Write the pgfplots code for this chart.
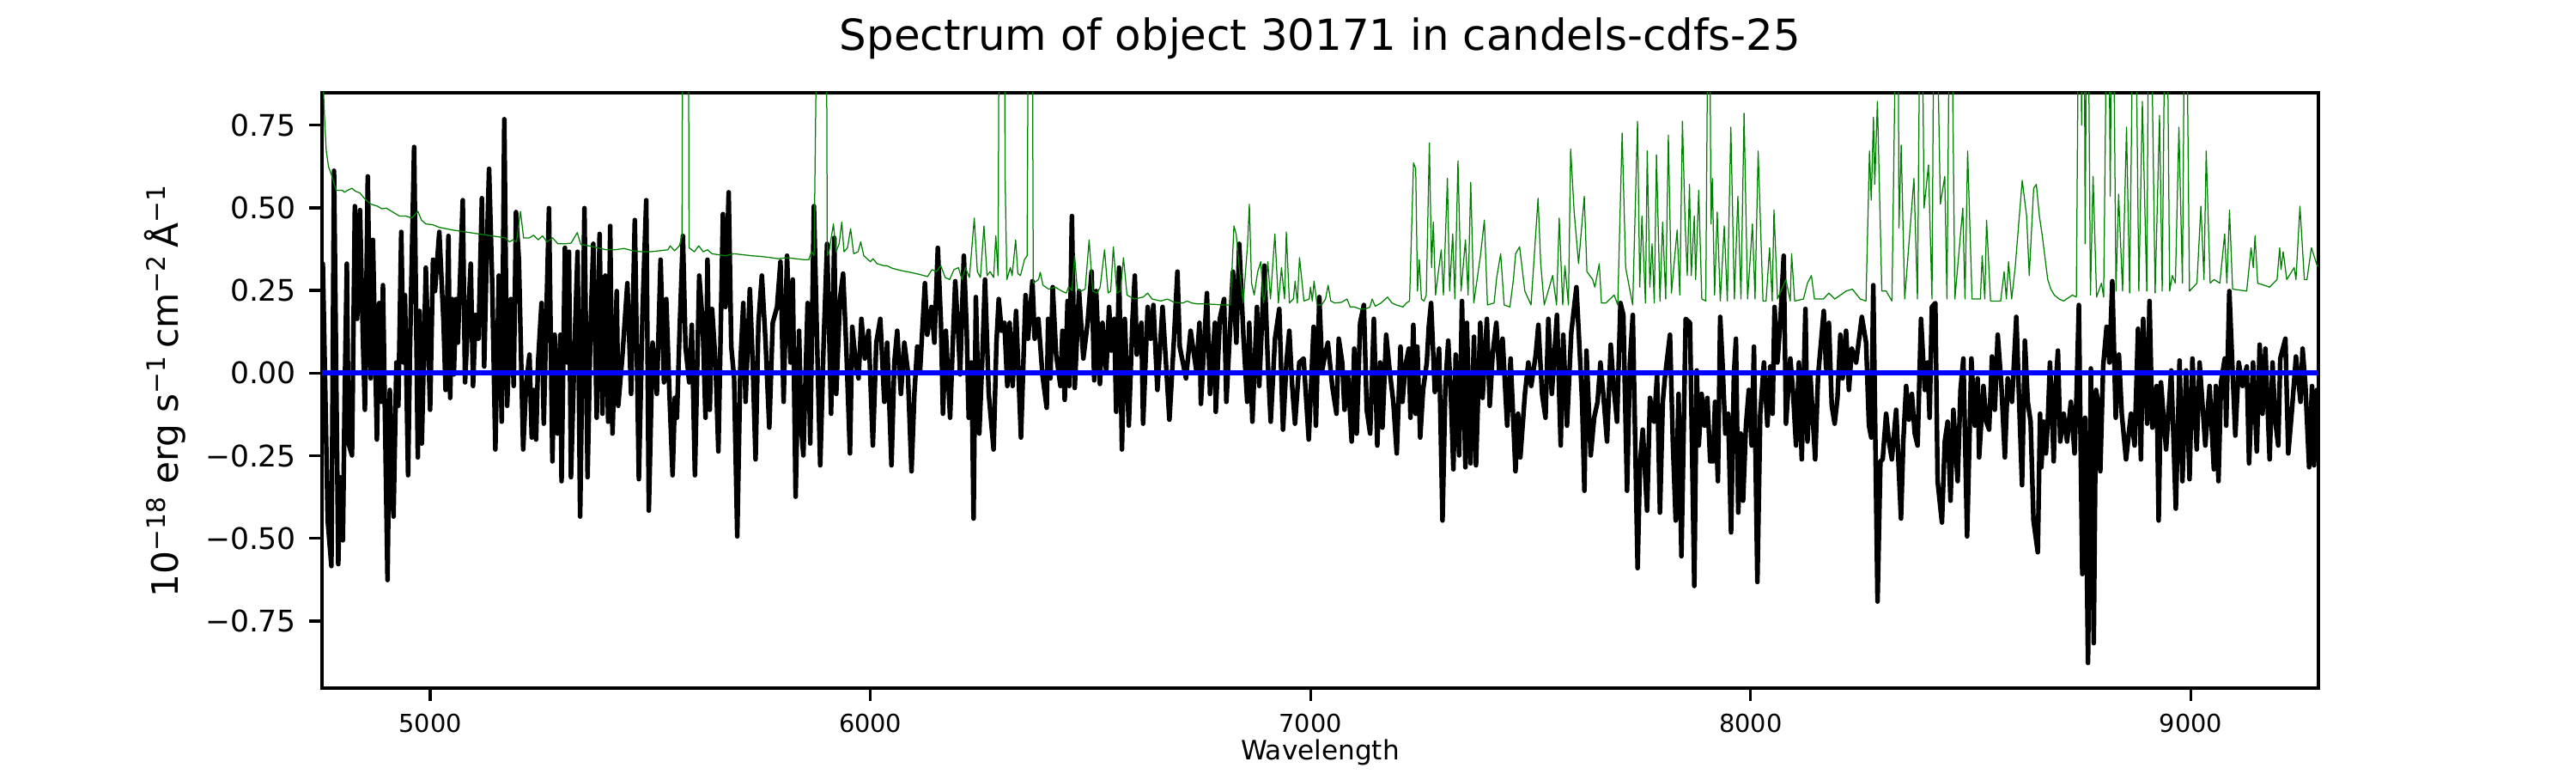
\documentclass[border=0pt]{standalone}
\usepackage{fontspec}
\setmainfont{DejaVu Sans}
\usepackage{pgfplots}
\pgfplotsset{compat=1.18}
\definecolor{mplgreen}{rgb}{0,0.5,0}
\definecolor{mplblue}{rgb}{0,0,1}
\begin{document}
\begin{tikzpicture}
\useasboundingbox (-90bp,-23.76bp) rectangle (630bp,192.24bp);
\begin{axis}[
  at={(0,0)}, anchor=south west,
  scale only axis, width=558bp, height=166.32bp,
  xmin=4754, xmax=9290, ymin=-0.953, ymax=0.848,
  axis line style={line width=0.8bp},
  every tick/.style={black, line width=0.8bp},
  tick align=outside, tick pos=left,
  major tick length=3.5bp,
  xtick={5000,6000,7000,8000,9000},
  xticklabels={5000,6000,7000,8000,9000},
  ytick={-0.75,-0.5,-0.25,0,0.25,0.5,0.75},
  yticklabels={−0.75,−0.50,−0.25,0.00,0.25,0.50,0.75},
  xticklabel style={font=\fontsize{6.94}{8}\selectfont, anchor=north, inner sep=0pt, yshift=-3.5bp},
  yticklabel style={font=\fontsize{8.33}{10}\selectfont, anchor=east, inner sep=0pt, xshift=-3.5bp},
  xlabel={Wavelength},
  xlabel style={font=\fontsize{7.5}{9}\selectfont, at={(axis description cs:0.5,0)}, anchor=north, inner sep=0pt, yshift=-14.2bp},
  ylabel={10\textsuperscript{−18} erg s\textsuperscript{−1}\,cm\textsuperscript{−2}\,Å\textsuperscript{−1}},
  ylabel style={font=\fontsize{10.2}{12}\selectfont, at={(axis description cs:-0.0680,0.5)}, anchor=south, inner sep=0pt, rotate=0},
  title={Spectrum of object 30171 in candels-cdfs-25},
  title style={font=\fontsize{12}{14}\selectfont, at={(axis description cs:0.5,1)}, anchor=base, inner sep=0pt, yshift=6bp},
]
\addplot[black, line width=1.3bp, line join=round] table {
x y
4754.0 0.300
4755.9 0.331
4767.0 -0.446
4775.4 -0.584
4781.3 0.612
4791.0 -0.578
4794.9 -0.315
4801.4 -0.506
4806.0 -0.028
4810.5 0.331
4814.4 -0.213
4822.2 -0.249
4828.7 0.505
4833.9 0.164
4840.4 0.493
4846.9 0.104
4851.5 -0.111
4858.0 0.595
4864.5 -0.016
4869.7 0.403
4878.8 -0.201
4884.0 0.212
4888.6 -0.087
4892.5 0.266
4902.9 -0.626
4908.1 -0.051
4916.5 -0.434
4923.0 0.032
4927.5 -0.099
4934.1 0.427
4939.2 0.032
4942.5 0.236
4949.6 -0.309
4953.5 0.044
4963.3 0.684
4971.7 -0.255
4975.6 0.188
4980.8 -0.213
4989.9 0.319
4999.7 -0.111
5006.2 0.343
5010.7 0.248
5020.5 0.427
5030.2 0.152
5034.8 -0.051
5041.3 0.415
5045.2 -0.075
5049.7 0.224
5053.6 -0.004
5058.8 0.224
5062.7 0.092
5073.8 0.523
5079.0 -0.028
5085.5 0.152
5092.0 0.331
5097.2 -0.039
5103.0 0.176
5109.5 0.104
5117.3 0.529
5122.5 0.020
5127.7 0.331
5133.6 0.618
5140.7 0.272
5147.9 -0.231
5155.8 0.295
5162.3 -0.147
5168.2 0.768
5174.7 -0.099
5183.1 0.224
5189.6 -0.039
5194.8 0.487
5201.3 0.343
5211.1 -0.231
5217.6 -0.039
5225.4 0.056
5230.6 -0.195
5235.2 -0.051
5240.4 -0.201
5244.9 0.032
5252.8 0.212
5257.9 -0.153
5269.7 0.499
5277.5 -0.267
5282.7 0.116
5289.2 -0.183
5295.7 0.116
5298.3 -0.327
5306.0 0.379
5311.2 0.032
5315.1 0.367
5319.7 -0.315
5329.5 0.152
5334.7 0.367
5340.5 -0.434
5350.3 0.499
5357.4 -0.315
5363.9 0.128
5370.4 0.391
5378.2 -0.135
5384.7 0.421
5391.2 -0.123
5397.7 0.295
5404.2 -0.147
5408.8 0.445
5414.0 -0.183
5423.7 0.248
5427.0 -0.099
5436.8 0.056
5447.8 0.272
5456.3 -0.063
5464.7 0.463
5473.9 -0.321
5482.3 0.188
5490.7 0.523
5496.6 -0.416
5505.1 0.092
5514.8 -0.063
5523.3 0.343
5531.0 -0.028
5536.2 0.224
5542.8 -0.039
5550.6 -0.309
5555.8 -0.075
5560.4 -0.135
5566.2 0.116
5574.0 0.415
5579.9 0.080
5588.3 -0.028
5594.2 0.146
5601.3 -0.309
5611.1 0.295
5618.9 0.152
5625.4 -0.135
5629.9 0.343
5635.1 -0.111
5640.3 0.194
5648.1 0.032
5654.6 -0.237
5665.0 0.481
5670.9 0.200
5678.0 0.547
5683.9 0.080
5690.4 -0.016
5697.5 -0.494
5704.7 0.032
5711.2 0.212
5716.4 -0.087
5726.1 0.254
5732.6 0.032
5739.1 -0.261
5745.6 0.152
5753.4 0.295
5761.9 0.092
5770.3 -0.165
5778.1 0.152
5787.9 0.200
5795.7 0.337
5802.8 -0.087
5810.6 0.355
5818.4 0.032
5823.6 0.283
5830.1 -0.374
5837.9 0.128
5843.1 -0.171
5847.7 -0.249
5857.4 0.212
5863.3 -0.213
5871.7 0.505
5878.9 0.092
5886.0 -0.279
5893.8 0.092
5901.6 0.391
5910.7 -0.123
5917.9 0.409
5922.4 -0.063
5930.9 0.224
5938.0 0.301
5945.8 0.056
5953.6 -0.243
5958.8 0.140
5966.6 0.032
5973.1 -0.016
5979.6 0.164
5987.4 0.044
5995.9 0.128
6005.6 -0.219
6013.4 0.092
6022.5 0.164
6031.6 -0.087
6038.1 0.092
6047.9 -0.279
6054.4 0.032
6060.9 0.128
6069.3 -0.063
6077.1 0.092
6084.9 0.008
6093.4 -0.297
6099.9 -0.063
6106.4 0.080
6112.9 0.008
6123.9 0.272
6129.1 0.116
6138.9 0.200
6145.4 0.092
6153.2 0.379
6160.3 0.152
6164.9 -0.123
6171.4 0.128
6181.1 -0.135
6187.6 0.104
6192.8 0.278
6199.3 0.128
6203.9 -0.004
6212.3 0.355
6218.8 0.128
6223.4 -0.135
6229.9 0.032
6234.4 -0.440
6239.6 0.230
6247.4 -0.183
6253.9 0.032
6260.4 0.283
6268.9 -0.063
6279.9 -0.231
6286.4 0.092
6291.6 0.224
6298.1 0.128
6304.6 0.152
6311.1 -0.039
6316.3 0.152
6323.2 -0.039
6331.0 0.188
6342.1 -0.195
6352.5 0.236
6358.3 0.104
6368.1 0.278
6373.3 0.104
6381.7 0.164
6390.8 -0.004
6400.6 -0.105
6403.8 0.164
6409.0 -0.016
6414.2 0.260
6422.0 0.056
6431.8 -0.039
6436.3 0.128
6441.5 -0.081
6448.0 0.218
6451.9 -0.039
6457.8 0.475
6464.3 -0.045
6474.0 0.248
6483.8 0.044
6493.5 0.152
6502.6 0.307
6508.5 -0.022
6513.0 0.248
6521.5 -0.033
6527.3 0.152
6535.8 0.002
6542.3 0.200
6547.5 0.068
6554.0 0.164
6558.5 -0.117
6565.0 0.319
6571.5 -0.231
6578.0 0.164
6587.1 -0.159
6595.6 0.164
6600.8 0.295
6605.3 0.056
6615.7 0.152
6619.6 -0.153
6630.0 0.200
6636.5 0.104
6643.0 0.206
6652.1 -0.051
6663.8 0.200
6679.4 -0.141
6689.8 0.104
6697.6 0.307
6702.8 0.080
6717.1 -0.016
6727.5 0.128
6740.5 0.008
6747.7 0.152
6750.9 -0.093
6764.6 0.242
6771.7 -0.063
6782.8 0.152
6784.7 -0.117
6793.9 0.164
6803.6 0.224
6808.8 -0.087
6823.7 0.307
6831.5 0.092
6838.0 0.391
6847.8 0.104
6856.2 -0.087
6860.8 0.152
6867.9 -0.147
6878.3 0.200
6883.5 -0.039
6895.2 0.325
6903.0 0.032
6909.5 -0.147
6919.3 0.104
6929.0 0.194
6937.5 -0.171
6945.3 0.032
6951.8 0.128
6958.3 -0.039
6964.8 -0.153
6974.5 0.032
6984.3 0.044
6996.0 -0.201
7007.0 0.140
7012.2 -0.159
7020.0 0.230
7026.5 0.008
7033.0 0.056
7039.5 0.092
7049.3 -0.039
7059.0 -0.123
7064.2 0.104
7072.0 0.032
7077.2 -0.111
7085.0 -0.004
7093.5 -0.207
7099.3 0.074
7104.9 -0.183
7112.7 0.152
7121.2 0.206
7127.7 -0.111
7135.5 -0.183
7143.9 0.164
7151.7 -0.219
7158.2 0.032
7163.4 -0.165
7171.9 0.116
7179.7 0.008
7188.1 -0.087
7195.9 -0.243
7204.4 0.080
7208.9 -0.087
7215.4 0.020
7223.2 0.074
7227.1 -0.135
7233.6 0.146
7238.8 -0.123
7242.7 0.080
7249.2 -0.195
7255.7 -0.051
7264.2 0.032
7268.7 0.140
7273.9 0.212
7282.4 -0.057
7292.1 0.074
7299.9 -0.446
7306.4 -0.039
7312.9 0.098
7319.4 -0.087
7324.6 -0.291
7329.8 0.056
7337.6 -0.249
7344.1 0.218
7351.9 -0.285
7355.2 0.152
7363.6 -0.273
7371.4 0.110
7376.0 -0.279
7385.7 0.152
7390.9 -0.075
7400.7 0.164
7407.2 -0.099
7413.7 0.056
7422.1 0.152
7428.6 0.008
7436.4 0.104
7446.8 -0.159
7454.6 0.044
7465.7 -0.297
7471.5 -0.123
7476.7 -0.255
7487.1 -0.063
7494.9 0.032
7501.4 -0.039
7511.8 0.056
7517.7 0.146
7526.1 -0.063
7533.9 -0.135
7540.4 0.164
7548.2 -0.063
7553.4 0.044
7559.9 0.176
7568.4 -0.219
7574.2 0.116
7582.7 -0.159
7592.4 0.122
7604.1 0.260
7611.9 0.056
7617.1 -0.087
7622.3 -0.356
7626.9 0.068
7636.6 -0.249
7644.4 -0.135
7652.2 -0.087
7658.7 0.032
7665.2 -0.063
7673.7 -0.207
7682.1 0.086
7688.6 -0.039
7696.4 -0.147
7704.2 0.212
7710.7 0.176
7719.2 -0.356
7725.7 0.032
7732.2 0.176
7743.2 -0.590
7748.4 -0.279
7754.9 -0.171
7764.7 -0.416
7771.2 -0.075
7780.9 -0.147
7787.4 -0.004
7793.9 -0.422
7800.4 -0.087
7805.0 -0.016
7816.7 0.116
7823.2 -0.207
7829.7 -0.446
7836.2 -0.063
7842.7 -0.554
7852.4 0.164
7862.2 0.152
7872.0 -0.644
7877.5 0.008
7882.1 -0.219
7888.6 -0.063
7895.1 -0.159
7901.6 -0.075
7908.1 -0.267
7914.6 -0.267
7919.1 -0.087
7925.6 -0.327
7930.8 0.170
7936.0 0.032
7942.5 -0.183
7949.0 -0.123
7955.5 -0.482
7962.0 -0.004
7966.6 0.104
7971.8 -0.422
7977.6 -0.183
7982.8 -0.386
7989.3 -0.159
7995.8 -0.051
8002.3 -0.219
8007.5 0.080
8015.3 -0.632
8021.8 -0.123
8030.2 0.032
8038.1 -0.159
8044.6 0.020
8049.8 -0.123
8054.3 0.200
8060.8 0.032
8067.3 0.152
8075.1 0.355
8080.3 -0.153
8090.1 0.044
8096.6 -0.063
8103.1 -0.219
8109.6 0.032
8116.1 -0.261
8124.5 0.194
8129.1 -0.207
8135.6 -0.004
8146.6 -0.261
8153.1 -0.010
8166.1 0.188
8171.3 0.014
8177.8 0.152
8184.3 -0.099
8190.8 -0.153
8197.3 -0.075
8203.8 0.116
8209.0 -0.016
8216.8 0.128
8223.3 -0.051
8229.8 0.074
8239.6 0.032
8252.6 0.170
8262.3 0.092
8268.8 -0.159
8274.0 -0.195
8278.6 0.266
8288.3 -0.691
8294.8 -0.267
8300.0 -0.261
8307.8 -0.123
8314.3 -0.207
8320.8 -0.261
8330.6 -0.111
8341.6 -0.440
8346.8 -0.207
8353.3 -0.039
8359.8 -0.141
8366.3 -0.063
8372.8 -0.183
8379.3 -0.219
8387.1 0.164
8395.6 -0.051
8402.1 0.032
8406.6 -0.135
8411.8 0.200
8419.6 0.212
8424.8 -0.327
8434.6 -0.452
8441.1 -0.207
8447.6 -0.147
8454.1 -0.386
8460.6 -0.111
8470.3 -0.327
8476.8 -0.051
8483.3 0.044
8491.8 -0.494
8501.5 0.044
8509.3 -0.159
8515.8 -0.016
8519.1 -0.255
8528.9 -0.039
8535.4 -0.147
8541.8 -0.171
8548.3 0.050
8554.8 -0.111
8561.3 0.116
8569.8 -0.039
8577.6 -0.255
8584.1 -0.016
8593.8 -0.087
8603.6 0.170
8610.1 -0.087
8616.6 -0.339
8623.1 0.098
8629.6 -0.087
8636.1 -0.147
8642.6 -0.446
8652.4 -0.542
8657.6 -0.123
8660.5 -0.285
8665.7 -0.147
8670.9 -0.243
8675.5 -0.135
8680.0 0.032
8683.9 -0.087
8688.5 -0.267
8693.0 -0.039
8698.2 0.068
8703.4 -0.207
8711.2 -0.123
8719.0 -0.207
8727.5 -0.087
8735.9 -0.243
8740.5 -0.063
8745.7 0.206
8753.5 -0.608
8760.0 -0.135
8766.5 -0.877
8773.0 0.014
8779.5 -0.817
8784.7 -0.051
8789.2 -0.087
8794.4 -0.297
8800.9 0.020
8808.7 0.140
8815.2 0.032
8821.7 0.278
8829.5 -0.135
8836.7 0.056
8843.2 -0.123
8852.9 -0.261
8864.0 -0.123
8872.4 -0.219
8880.2 0.134
8886.7 -0.261
8891.9 0.164
8901.0 -0.153
8906.2 0.218
8912.7 -0.165
8922.5 -0.039
8927.0 -0.446
8932.2 -0.028
8943.9 -0.231
8955.6 0.008
8966.0 -0.410
8974.5 0.038
8981.0 -0.327
8989.4 0.008
8997.2 -0.321
9003.7 0.044
9013.5 -0.231
9020.0 0.032
9033.0 -0.219
9042.7 -0.039
9052.5 -0.291
9057.0 -0.039
9062.9 -0.327
9068.7 -0.028
9077.2 0.044
9080.4 -0.159
9087.6 0.248
9094.7 0.014
9101.2 -0.189
9109.0 0.032
9117.5 -0.039
9127.2 0.020
9132.4 -0.273
9141.5 0.032
9150.0 -0.237
9156.5 0.086
9163.0 -0.123
9169.5 0.074
9179.2 -0.261
9185.7 0.032
9192.2 -0.147
9198.7 -0.219
9203.3 0.044
9215.0 0.104
9221.5 -0.243
9229.9 -0.111
9239.0 0.050
9249.4 -0.087
9254.0 0.074
9260.5 -0.039
9268.9 -0.285
9275.4 -0.039
9280.0 -0.279
9286.5 -0.051
9290.0 -0.231
};
\addplot[mplgreen, line width=0.3bp, line join=round] table {
x y
4754.0 1.000
4757.2 0.860
4760.5 0.750
4763.7 0.672
4768.9 0.624
4776.7 0.595
4786.0 0.553
4800.0 0.553
4805.0 0.547
4812.0 0.553
4822.0 0.559
4830.0 0.550
4840.0 0.545
4850.0 0.529
4865.0 0.511
4880.0 0.505
4890.0 0.497
4900.0 0.499
4915.0 0.487
4930.0 0.475
4945.0 0.475
4958.0 0.469
4972.0 0.489
4980.0 0.463
4990.0 0.451
5005.0 0.449
5020.0 0.441
5035.0 0.437
5050.0 0.433
5070.0 0.429
5090.0 0.425
5110.0 0.421
5130.0 0.417
5150.0 0.413
5170.0 0.409
5180.0 0.397
5188.0 0.403
5196.0 0.397
5205.0 0.489
5212.0 0.409
5225.0 0.409
5235.0 0.417
5245.0 0.403
5255.0 0.415
5265.0 0.397
5278.0 0.409
5290.0 0.391
5305.0 0.391
5320.0 0.393
5334.0 0.425
5342.0 0.389
5360.0 0.385
5380.0 0.379
5400.0 0.373
5420.0 0.373
5440.0 0.377
5460.0 0.370
5480.0 0.367
5500.0 0.367
5520.0 0.370
5540.0 0.373
5545.0 0.385
5555.0 0.370
5566.0 0.385
5572.0 0.415
5575.0 2.000
5585.0 2.000
5588.0 0.379
5600.0 0.367
5610.0 0.385
5620.0 0.367
5630.0 0.373
5640.0 0.361
5655.0 0.358
5670.0 0.355
5690.0 0.361
5710.0 0.358
5730.0 0.355
5750.0 0.353
5770.0 0.350
5790.0 0.346
5810.0 0.349
5830.0 0.346
5850.0 0.343
5860.0 0.343
5866.0 0.367
5872.0 0.355
5886.0 2.000
5898.0 2.000
5902.0 0.355
5906.0 0.367
5916.0 0.451
5922.0 0.367
5929.0 0.391
5935.0 0.457
5940.0 0.367
5948.0 0.379
5955.0 0.437
5962.0 0.361
5972.0 0.367
5978.0 0.397
5985.0 0.355
6000.0 0.337
6006.0 0.346
6015.0 0.331
6030.0 0.325
6037.0 0.325
6050.0 0.317
6070.0 0.310
6090.0 0.305
6110.0 0.299
6130.0 0.292
6140.0 0.313
6150.0 0.307
6160.0 0.325
6170.0 0.289
6180.0 0.283
6190.0 0.313
6200.0 0.319
6208.0 0.283
6216.0 0.319
6225.0 0.289
6236.0 0.469
6243.0 0.307
6250.0 0.289
6258.0 0.445
6265.0 0.295
6272.0 0.307
6280.0 0.289
6285.0 0.415
6290.0 0.295
6295.0 2.000
6303.0 2.000
6306.0 0.600
6310.0 0.283
6318.0 0.319
6322.0 0.295
6330.0 0.403
6335.0 0.301
6341.0 0.295
6350.0 0.343
6356.0 0.355
6362.0 2.000
6366.0 2.000
6370.0 0.272
6382.0 0.283
6386.0 0.305
6392.0 0.266
6405.0 0.254
6420.0 0.260
6435.0 0.248
6445.0 0.242
6450.0 0.260
6458.0 0.250
6464.0 0.355
6470.0 0.254
6478.0 0.248
6488.0 0.254
6497.0 0.403
6505.0 0.248
6515.0 0.242
6522.0 0.260
6532.0 0.373
6540.0 0.242
6546.0 0.248
6552.0 0.382
6560.0 0.242
6568.0 0.248
6575.0 0.349
6583.0 0.236
6600.0 0.224
6620.0 0.230
6630.0 0.242
6640.0 0.224
6660.0 0.218
6675.0 0.224
6690.0 0.214
6710.0 0.212
6720.0 0.218
6730.0 0.212
6745.0 0.209
6760.0 0.209
6780.0 0.208
6800.0 0.206
6818.0 0.206
6826.0 0.445
6831.0 0.421
6838.0 0.319
6847.0 0.212
6857.0 0.391
6861.0 0.511
6866.0 0.272
6872.0 0.236
6880.0 0.307
6887.0 0.337
6893.0 0.212
6898.0 0.248
6903.0 0.337
6909.0 0.224
6919.0 0.421
6927.0 0.212
6934.0 0.319
6941.0 0.224
6945.0 0.427
6952.0 0.212
6961.0 0.224
6965.0 0.278
6970.0 0.212
6975.0 0.349
6985.0 0.218
6997.0 0.224
7000.0 0.260
7004.0 0.218
7008.0 0.278
7015.0 0.206
7025.0 0.206
7034.0 0.224
7040.0 0.266
7046.0 0.218
7055.0 0.212
7070.0 0.214
7083.0 0.224
7090.0 0.200
7100.0 0.200
7112.0 0.194
7125.0 0.194
7135.0 0.200
7140.0 0.224
7147.0 0.202
7160.0 0.212
7175.0 0.230
7185.0 0.212
7195.0 0.206
7210.0 0.200
7218.0 0.212
7225.0 0.218
7234.0 0.636
7239.0 0.618
7243.0 0.248
7247.0 0.343
7252.0 0.224
7258.0 0.218
7263.0 0.236
7270.0 0.696
7275.0 0.319
7279.0 0.457
7284.0 0.236
7290.0 0.301
7297.0 0.373
7302.0 0.236
7311.0 0.589
7316.0 0.248
7323.0 0.421
7328.0 0.224
7335.0 0.642
7342.0 0.248
7352.0 0.403
7358.0 0.236
7364.0 0.577
7371.0 0.212
7386.0 0.355
7395.0 0.463
7402.0 0.206
7417.0 0.212
7423.0 0.289
7432.0 0.361
7440.0 0.206
7453.0 0.200
7461.0 0.283
7466.0 0.361
7475.0 0.382
7487.0 0.248
7501.0 0.206
7517.0 0.529
7523.0 0.331
7531.0 0.206
7550.0 0.295
7559.0 0.206
7565.0 0.469
7573.0 0.206
7578.0 0.325
7586.0 0.206
7591.0 0.678
7599.0 0.487
7609.0 0.331
7622.0 0.535
7628.0 0.307
7641.0 0.283
7646.0 0.260
7656.0 0.331
7661.0 0.212
7671.0 0.212
7690.0 0.236
7698.0 0.206
7708.0 0.726
7716.0 0.319
7726.0 0.248
7732.0 0.206
7743.0 0.762
7748.0 0.260
7753.0 0.475
7761.0 0.212
7765.0 0.672
7771.0 0.260
7776.0 0.391
7781.0 0.212
7786.0 0.660
7794.0 0.218
7800.0 0.457
7807.0 0.224
7813.0 0.720
7820.0 0.242
7833.0 0.433
7839.0 0.236
7845.0 0.762
7851.0 0.457
7856.0 0.295
7861.0 0.571
7865.0 0.295
7872.0 0.475
7875.0 0.283
7882.0 0.553
7889.0 0.224
7898.0 0.218
7905.0 1.500
7910.0 0.451
7913.0 0.589
7918.0 0.236
7924.0 0.487
7931.0 0.218
7940.0 0.445
7947.0 0.218
7955.0 0.744
7963.0 0.224
7971.0 0.535
7978.0 0.224
7985.0 0.786
7993.0 0.224
8004.0 0.451
8010.0 0.224
8017.0 0.672
8028.0 0.218
8035.0 0.218
8043.0 0.379
8049.0 0.218
8053.0 0.493
8061.0 0.224
8080.0 0.283
8090.0 0.218
8093.0 0.361
8100.0 0.218
8120.0 0.224
8129.0 0.272
8138.0 0.295
8145.0 0.224
8165.0 0.224
8178.0 0.242
8191.0 0.224
8217.0 0.248
8231.0 0.254
8249.0 0.224
8262.0 0.218
8270.0 0.672
8274.0 0.523
8279.0 0.774
8282.0 0.571
8288.0 0.822
8298.0 0.248
8308.0 0.248
8321.0 0.218
8334.0 1.500
8337.0 0.439
8342.0 0.690
8350.0 0.224
8371.0 0.589
8379.0 0.224
8387.0 1.500
8394.0 0.499
8404.0 0.630
8412.0 0.224
8418.0 1.500
8431.0 0.511
8441.0 0.595
8446.0 0.224
8454.0 1.500
8464.0 0.224
8482.0 0.499
8487.0 0.224
8493.0 0.672
8503.0 0.224
8522.0 0.224
8526.0 0.355
8532.0 0.224
8536.0 0.463
8545.0 0.218
8568.0 0.218
8576.0 0.307
8581.0 0.224
8586.0 0.337
8593.0 0.224
8601.0 0.319
8617.0 0.583
8627.0 0.475
8633.0 0.295
8643.0 0.559
8649.0 0.571
8656.0 0.475
8662.0 0.421
8675.0 0.283
8682.0 0.254
8690.0 0.236
8701.0 0.224
8711.0 0.218
8731.0 0.236
8740.0 0.230
8747.0 1.500
8752.0 0.750
8757.0 1.500
8760.0 0.391
8765.0 1.500
8772.0 0.236
8778.0 0.595
8786.0 0.230
8797.0 0.272
8802.0 0.230
8812.0 1.500
8817.0 0.535
8822.0 1.500
8830.0 0.248
8836.0 0.541
8845.0 0.248
8854.0 0.744
8861.0 0.242
8872.0 1.500
8882.0 0.248
8890.0 0.822
8900.0 0.248
8906.0 1.500
8919.0 0.242
8929.0 0.780
8935.0 0.248
8944.0 1.500
8952.0 0.248
8958.0 0.295
8965.0 0.272
8973.0 0.744
8981.0 0.272
8988.0 1.500
8997.0 0.248
9014.0 0.272
9023.0 0.505
9030.0 0.283
9035.0 0.672
9044.0 0.272
9053.0 0.283
9066.0 0.272
9077.0 0.421
9082.0 0.272
9088.0 0.493
9095.0 0.254
9127.0 0.248
9137.0 0.379
9142.0 0.319
9146.0 0.415
9152.0 0.272
9166.0 0.266
9179.0 0.260
9196.0 0.283
9202.0 0.379
9205.0 0.313
9210.0 0.367
9218.0 0.283
9235.0 0.319
9239.0 0.283
9248.0 0.505
9258.0 0.283
9264.0 0.283
9274.0 0.379
9280.0 0.355
9287.0 0.325
9290.0 0.325
};
\addplot[mplblue, line width=1.5bp] coordinates {(4754,0) (9290,0)};
\end{axis}
\end{tikzpicture}
\end{document}
